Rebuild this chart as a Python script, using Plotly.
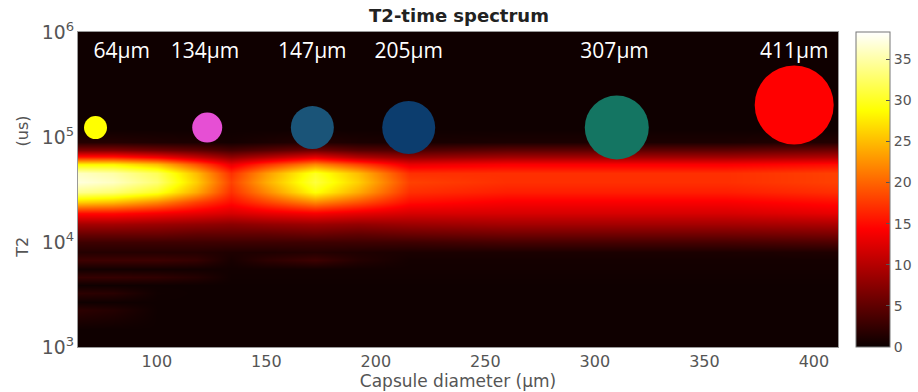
import numpy as np
import plotly.graph_objects as go

# ---------------- data ----------------
diam = [64, 80, 100, 118, 134, 150, 172, 192, 215, 260, 310, 360, 411]          # x columns (µm)
t2 = [1e3, 1.5e3, 2.25e3, 2.7e3, 3.27e3, 3.9e3, 4.65e3, 5.5e3, 6.7e3, 8e3,
      1e4, 1.2e4, 1.5e4, 1.9e4, 2.4e4, 3e4, 3.7e4, 4.5e4, 5.5e4, 6.5e4,
      7.5e4, 9e4, 1.2e5, 1e6]                                                    # T2 rows (us)
amp = [
    [0.3, 0.3, 0.3, 0.3, 0.3, 0.3, 0.3, 0.3, 0.3, 0.3, 0.3, 0.3, 0.3],
    [0.3, 0.3, 0.3, 0.3, 0.3, 0.3, 0.3, 0.3, 0.3, 0.3, 0.3, 0.3, 0.3],
    [2.0, 1.5, 0.3, 0.3, 0.3, 0.3, 0.3, 0.3, 0.3, 0.3, 0.3, 0.3, 0.3],
    [0.3, 0.3, 0.3, 0.3, 0.3, 0.3, 0.3, 0.3, 0.3, 0.3, 0.3, 0.3, 0.3],
    [2.0, 1.8, 0.4, 0.3, 0.3, 0.3, 0.3, 0.3, 0.3, 0.3, 0.3, 0.3, 0.3],
    [0.3, 0.3, 0.3, 0.3, 0.3, 0.3, 0.3, 0.3, 0.3, 0.3, 0.3, 0.3, 0.3],
    [2.5, 2.5, 2.2, 1.5, 0.4, 0.4, 0.4, 0.4, 0.4, 0.4, 0.4, 0.4, 0.4],
    [0.5, 0.5, 0.5, 0.5, 0.5, 0.5, 0.5, 0.5, 0.5, 0.5, 0.5, 0.5, 0.5],
    [3.0, 3.0, 3.0, 2.5, 0.8, 2.0, 3.0, 1.5, 0.6, 0.6, 0.6, 0.6, 0.6],
    [1.5, 1.5, 1.5, 1.5, 1.2, 1.2, 1.5, 1.2, 1.0, 1.0, 1.0, 1.0, 1.2],
    [3.0, 3.0, 3.0, 3.0, 3.0, 3.0, 3.0, 3.0, 3.0, 3.5, 3.5, 3.5, 4.0],
    [5.5, 5.5, 5.5, 5.0, 5.0, 5.0, 5.5, 5.0, 5.5, 6.0, 6.0, 6.0, 6.5],
    [9.0, 9.0, 8.5, 8.0, 7.5, 8.0, 8.5, 8.0, 8.5, 9.0, 9.0, 9.0, 9.5],
    [15, 15, 14, 13, 12, 13, 14, 13, 12, 12, 12, 12, 13],
    [26, 25, 22, 18, 15, 18, 22, 19, 15, 14, 14, 14, 15],
    [34, 33, 30, 24, 17, 22, 29, 24, 17, 16, 16, 16, 17],
    [37, 36, 33, 26, 18, 24, 31, 26, 18, 17, 17, 17, 18],
    [36, 35, 32, 25, 17, 23, 30, 25, 17, 17, 17, 17, 18],
    [28, 28, 25, 19, 13, 17, 22, 18, 13, 14, 14, 14, 15],
    [16, 16, 14, 11, 8, 10, 13, 10, 8, 9, 9, 9, 10],
    [7, 7, 6, 5, 3.5, 4.5, 6, 4.5, 4, 5, 5, 5, 6],
    [1.5, 1.5, 1.2, 1.0, 0.6, 1.0, 1.5, 1.0, 0.8, 1.0, 1.0, 1.0, 1.5],
    [0.3, 0.3, 0.3, 0.3, 0.3, 0.3, 0.3, 0.3, 0.3, 0.3, 0.3, 0.3, 0.3],
    [0.3, 0.3, 0.3, 0.3, 0.3, 0.3, 0.3, 0.3, 0.3, 0.3, 0.3, 0.3, 0.3],
]

capsule_labels = ["64μm", "134μm", "147μm", "205μm", "307μm", "411μm"]
capsule_x = [72, 123, 171, 215, 310, 391]
capsule_y = [1.23e5, 1.23e5, 1.23e5, 1.23e5, 1.23e5, 2.02e5]
label_x = [84, 122, 171, 215, 309, 391]
label_y = 6.3e5

x_ticks = [100, 150, 200, 250, 300, 350, 400]
cbar_ticks = [0, 5, 10, 15, 20, 25, 30, 35]

# ---------------- styles ----------------
capsule_colors = ["#ffff00", "#e64fd4", "#1a5478", "#0c3d6e", "#147562", "#ff0000"]
capsule_size = [23, 30, 43, 53, 64, 79]

hot = [[0, "#0a0000"], [0.375, "#ff0000"], [0.75, "#ffff00"], [1, "#ffffff"]]
grey = "#555555"
font = "DejaVu Sans"

fig = go.Figure()
fig.add_trace(go.Heatmap(
    x=diam, y=t2, z=amp, zmin=0, zmax=38.3, zsmooth="best",
    colorscale=hot, hoverinfo="skip",
    colorbar=dict(
        x=1.0237, xanchor="left", xpad=0, y=0.5, yanchor="middle", len=1, lenmode="fraction",
        ypad=0, thickness=34, outlinecolor="#777777", outlinewidth=1,
        tickvals=cbar_ticks, ticks="inside", ticklen=4, tickcolor=grey,
        tickfont=dict(family=font, size=14, color=grey),
    ),
))

fig.add_trace(go.Scatter(
    x=capsule_x, y=capsule_y, mode="markers", hoverinfo="skip", showlegend=False,
    marker=dict(size=capsule_size, color=capsule_colors, line=dict(width=0), opacity=1),
))

fig.add_trace(go.Scatter(
    x=label_x, y=[label_y] * len(label_x), mode="text", text=capsule_labels,
    textposition="middle center", hoverinfo="skip", showlegend=False,
    textfont=dict(family="Open Sans", size=21, color="white"),
))

annotations = [
    dict(x=-0.073, y=0.317, xref="paper", yref="paper", text="T2", textangle=-90,
         showarrow=False, font=dict(family=font, size=16, color=grey),
         xanchor="center", yanchor="middle"),
    dict(x=-0.073, y=0.686, xref="paper", yref="paper", text="(us)", textangle=-90,
         showarrow=False, font=dict(family=font, size=16, color=grey),
         xanchor="center", yanchor="middle"),
]

fig.update_layout(
    width=918, height=392,
    margin=dict(l=78, r=80, t=32, b=45, autoexpand=False),
    paper_bgcolor="white", plot_bgcolor="black",
    showlegend=False,
    title=dict(text="<b>T2-time spectrum</b>", x=0.5, xanchor="center",
               y=1 - 16 / 392, yanchor="middle",
               font=dict(family=font, size=18, color="#222222")),
    annotations=annotations,
    xaxis=dict(range=[64, 411], tickvals=x_ticks, ticks="", showgrid=False, zeroline=False,
               showline=True, linecolor="#999999", linewidth=1, mirror=True,
               tickfont=dict(family=font, size=16, color=grey),
               title=dict(text="Capsule diameter (μm)", standoff=3,
                          font=dict(family=font, size=17, color=grey))),
    yaxis=dict(type="log", range=[3, 6], dtick=1, exponentformat="power", ticks="",
               showgrid=False, zeroline=False, showline=True, linecolor="#999999",
               linewidth=1, mirror=True,
               tickfont=dict(family=font, size=15, color=grey)),
)

fig.write_html("out.html")
